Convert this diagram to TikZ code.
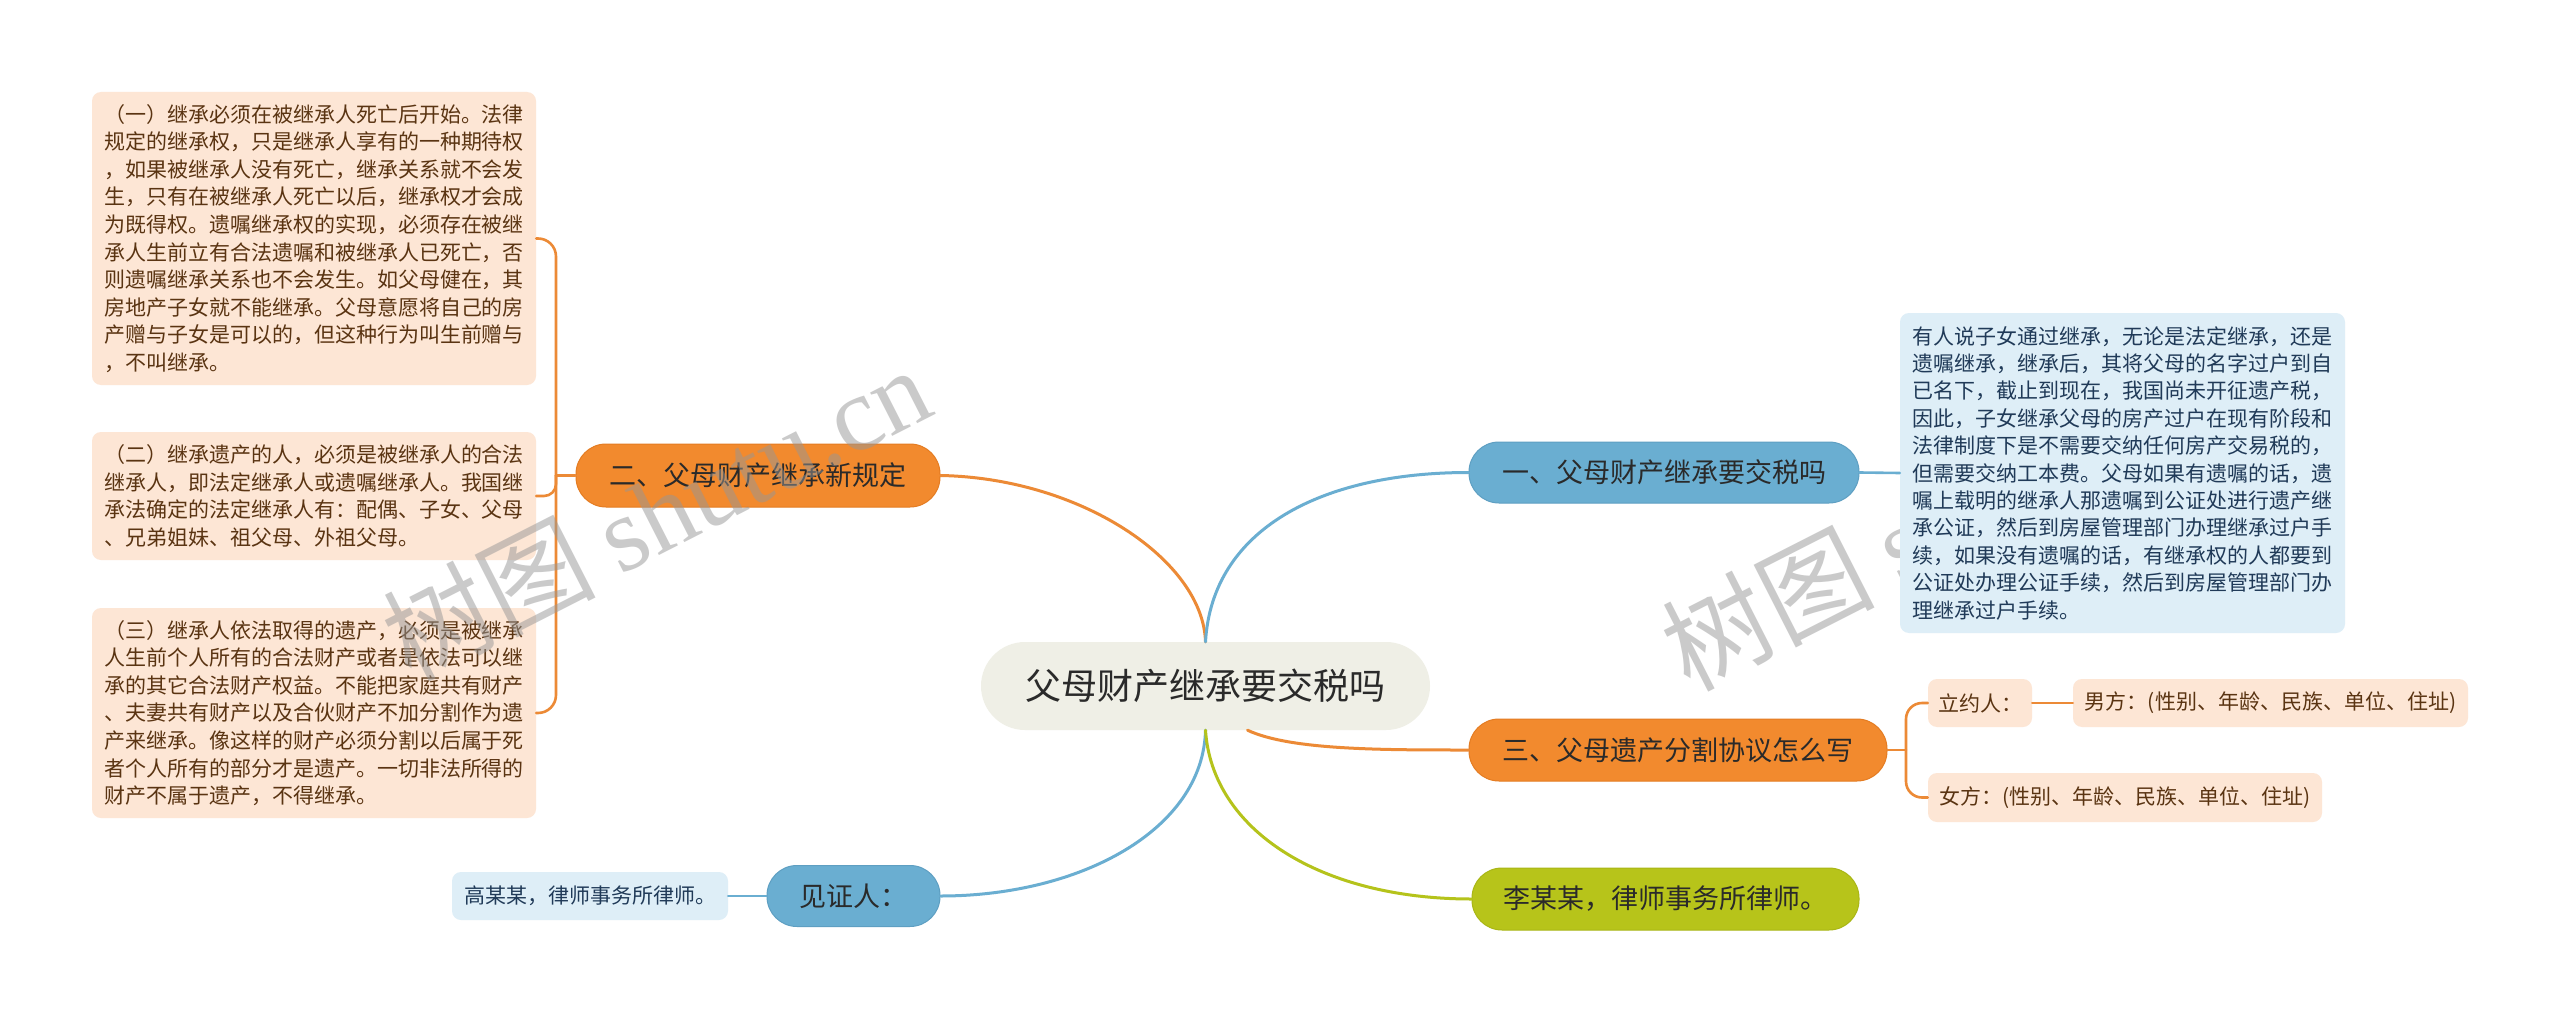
\documentclass[tikz,border=0pt]{standalone}
\usepackage{fontspec}
\setmainfont{Noto Sans CJK SC}
\newfontfamily\wmcjk{Noto Sans CJK SC}
\newfontfamily\wmlat{Liberation Serif}
\definecolor{cblue}{HTML}{6AAED1}
\definecolor{corange}{HTML}{EC8A36}
\definecolor{cgreen}{HTML}{B5C31B}
\definecolor{nblue}{HTML}{6AAED1}
\definecolor{nblueb}{HTML}{5E9FC2}
\definecolor{norange}{HTML}{F28A2E}
\definecolor{norangeb}{HTML}{E47C22}
\definecolor{ngreen}{HTML}{B7C41A}
\definecolor{ngreenb}{HTML}{A9B615}
\definecolor{ncen}{HTML}{EFEFE6}
\definecolor{leafor}{HTML}{FDE6D5}
\definecolor{leafbl}{HTML}{DEEEF7}
\definecolor{txtbrown}{HTML}{5A3412}
\definecolor{txtnavy}{HTML}{203A58}
\definecolor{txtdark}{HTML}{2A2A2A}
\definecolor{wmgray}{HTML}{969696}
\tikzset{
  mainconn/.style={line width=3pt, line cap=round},
  leafconn/.style={line width=2.6pt, line cap=round},
  branch/.style={rounded corners=30pt, inner sep=0pt, line width=1pt, text=txtdark,
    font=\fontsize{27}{32}\selectfont},
  centre/.style={rounded corners=44pt, inner sep=0pt, fill=ncen, text=txtdark,
    font=\fontsize{36}{42}\selectfont},
  leafo/.style={fill=leafor, rounded corners=9pt, inner sep=0pt, align=left, text=txtbrown,
    font=\fontsize{21}{27.6}\selectfont},
  leafb/.style={fill=leafbl, rounded corners=9pt, inner sep=0pt, align=left, text=txtnavy,
    font=\fontsize{21}{27.4}\selectfont},
  wm/.style={text=wmgray, text opacity=0.5, inner sep=0pt, rotate=27,
    font=\fontsize{106}{114}\selectfont}
}
\begin{document}
\begin{tikzpicture}[x=1pt,y=-1pt]
\useasboundingbox (0,0) rectangle (2560,1022);
\fill[white] (0,0) rectangle (2560,1022);

% right watermark (partly hidden under the blue box)
\node[wm] (wmr) at (1935,522) {{\wmcjk 树图} {\wmlat shutu.cn}};

% main nodes
\node[centre, minimum width=449pt, minimum height=88pt] (cen) at (1205.5,686) {父母财产继承要交税吗};
\node[branch, fill=nblue, draw=nblueb, minimum width=390pt, minimum height=61pt] (yi) at (1664,472.5) {一、父母财产继承要交税吗};
\node[branch, fill=norange, draw=norangeb, minimum width=364pt, minimum height=63pt] (er) at (758,475.5) {二、父母财产继承新规定};
\node[branch, fill=norange, draw=norangeb, minimum width=418pt, minimum height=62pt] (san) at (1678,750) {三、父母遗产分割协议怎么写};
\node[branch, fill=nblue, draw=nblueb, minimum width=173pt, minimum height=61pt] (jz) at (853.5,896) {见证人：};
\node[branch, fill=ngreen, draw=ngreenb, minimum width=387pt, minimum height=62pt] (li) at (1665.5,899) {李某某，律师事务所律师。};

% leaves
\node[leafo, minimum width=444pt, minimum height=293pt] (b1) at (314,238.5) {%
（一）继承必须在被继承人死亡后开始。法律\\
规定的继承权，只是继承人享有的一种期待权\\
，如果被继承人没有死亡，继承关系就不会发\\
生，只有在被继承人死亡以后，继承权才会成\\
为既得权。遗嘱继承权的实现，必须存在被继\\
承人生前立有合法遗嘱和被继承人已死亡，否\\
则遗嘱继承关系也不会发生。如父母健在，其\\
房地产子女就不能继承。父母意愿将自己的房\\
产赠与子女是可以的，但这种行为叫生前赠与\\
，不叫继承。};
\node[leafo, minimum width=444pt, minimum height=128pt] (b2) at (314,496) {%
（二）继承遗产的人，必须是被继承人的合法\\
继承人，即法定继承人或遗嘱继承人。我国继\\
承法确定的法定继承人有：配偶、子女、父母\\
、兄弟姐妹、祖父母、外祖父母。};
\node[leafo, minimum width=444pt, minimum height=210pt] (b3) at (314,713) {%
（三）继承人依法取得的遗产，必须是被继承\\
人生前个人所有的合法财产或者是依法可以继\\
承的其它合法财产权益。不能把家庭共有财产\\
、夫妻共有财产以及合伙财产不加分割作为遗\\
产来继承。像这样的财产必须分割以后属于死\\
者个人所有的部分才是遗产。一切非法所得的\\
财产不属于遗产，不得继承。};
\node[leafb, minimum width=445pt, minimum height=320pt] (bb) at (2122.5,473) {%
有人说子女通过继承，无论是法定继承，还是\\
遗嘱继承，继承后，其将父母的名字过户到自\\
已名下，截止到现在，我国尚未开征遗产税，\\
因此，子女继承父母的房产过户在现有阶段和\\
法律制度下是不需要交纳任何房产交易税的，\\
但需要交纳工本费。父母如果有遗嘱的话，遗\\
嘱上载明的继承人那遗嘱到公证处进行遗产继\\
承公证，然后到房屋管理部门办理继承过户手\\
续，如果没有遗嘱的话，有继承权的人都要到\\
公证处办理公证手续，然后到房屋管理部门办\\
理继承过户手续。};
\node[leafb, minimum width=276pt, minimum height=48pt] (gao) at (590,896) {高某某，律师事务所律师。};
\node[leafo, minimum width=104pt, minimum height=48pt] (liyue) at (1980,703) {立约人：};
\node[leafo, minimum width=395pt, minimum height=48pt] (nan) at (2270.5,703) {男方：(性别、年龄、民族、单位、住址)};
\node[leafo, minimum width=394pt, minimum height=49pt] (nv) at (2125,797.5) {女方：(性别、年龄、民族、单位、住址)};

% connectors from the centre
\draw[mainconn, corange] (er.east) .. controls (1080,478) and (1203,560) .. (cen.north);
\draw[mainconn, cblue] (cen.north) .. controls (1212,530) and (1320,472.5) .. (yi.west);
\draw[mainconn, corange] ([xshift=42pt]cen.south) .. controls (1290,750) and (1380,750) .. (san.west);
\draw[mainconn, cblue] (cen.south) .. controls (1203,830) and (1080,896) .. (jz.east);
\draw[mainconn, cgreen] (cen.south) .. controls (1212,830) and (1320,899) .. (li.west);

% leaf connectors
\draw[leafconn, cblue] (yi.east) -- (bb.west);
\draw[leafconn, cblue] (jz.west) -- (gao.east);
\draw[leafconn, corange] (liyue.east) -- (nan.west);
\coordinate (sanj) at (1906,750);
\draw[leafconn, corange] (san.east) -- (sanj);
\draw[leafconn, corange, rounded corners=16pt] (liyue.west) -| (sanj) |- (nv.west);
\coordinate (erj) at (556,475.5);
\draw[leafconn, corange] (er.west) -- (erj);
\draw[leafconn, corange, rounded corners=18pt] (b1.east) -| (erj) |- (b3.east);
\draw[leafconn, corange, rounded corners=12pt] (erj) |- (b2.east);

% left watermark (on top)
\node[wm] (wml) at (656,512) {{\wmcjk 树图} {\wmlat shutu.cn}};
\end{tikzpicture}
\end{document}
